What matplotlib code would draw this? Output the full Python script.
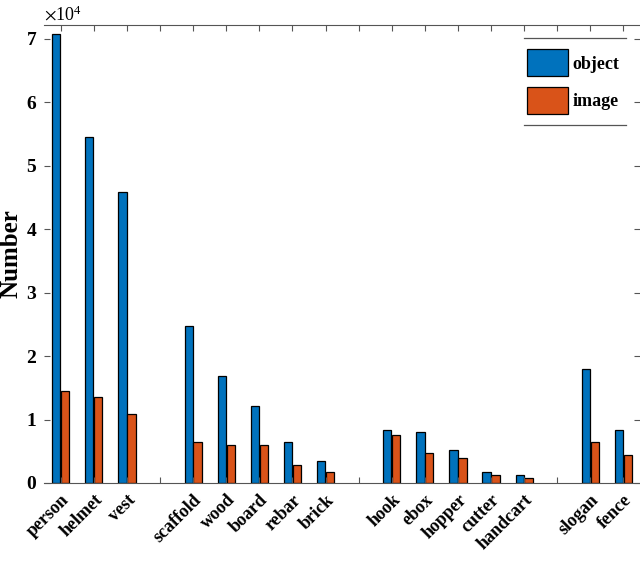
import numpy as np
import matplotlib.pyplot as plt
from matplotlib.ticker import ScalarFormatter

plt.rcParams['font.family'] = 'Liberation Serif'
plt.rcParams['mathtext.fontset'] = 'stix'

# categories (empty strings are the gaps between groups)
categories = ['person', 'helmet', 'vest', '',
              'scaffold', 'wood', 'board', 'rebar', 'brick', '',
              'hook', 'ebox', 'hopper', 'cutter', 'handcart', '',
              'slogan', 'fence']
object_counts = [70800, 54600, 45800, 0,
                 24800, 16800, 12100, 6500, 3400, 0,
                 8300, 8000, 5200, 1800, 1200, 0,
                 17900, 8300]
image_counts = [14500, 13600, 10800, 0,
                6400, 6000, 6000, 2800, 1700, 0,
                7600, 4800, 3900, 1200, 800, 0,
                6400, 4400]

blue = '#0072BD'
orange = '#D95319'

fig = plt.figure(figsize=(6.4, 5.88), dpi=100)
ax = fig.add_axes([0.069, 0.1786, 0.931, 0.7789])

x = np.arange(1, len(categories) + 1)
obj = np.array(object_counts, dtype=float)
img = np.array(image_counts, dtype=float)
mask = np.array([c != '' for c in categories])

bw = 0.25
ax.bar(x[mask] - 0.135, obj[mask], bw, color=blue, edgecolor='black', linewidth=0.9, label='object')
ax.bar(x[mask] + 0.135, img[mask], bw, color=orange, edgecolor='black', linewidth=0.9, label='image')

ax.set_xlim(0.5, 18.5)
ax.set_ylim(0, 72200)
ax.set_xticks(x)
ax.set_xticklabels(categories, rotation=45, ha='right', rotation_mode='anchor',
                   fontsize=13, fontweight='bold')
ax.set_yticks(np.arange(0, 70001, 10000))

fmt = ScalarFormatter(useMathText=True)
fmt.set_powerlimits((0, 0))
ax.yaxis.set_major_formatter(fmt)
ax.yaxis.get_offset_text().set_fontsize(13)
for lab in ax.get_yticklabels():
    lab.set_fontweight('bold')
    lab.set_fontsize(14)

ax.tick_params(axis='both', direction='in', length=4.5, color='#555555',
               top=True, right=True, width=0.8)
ax.tick_params(axis='x', pad=6)
ax.tick_params(axis='y', pad=5)

ax.spines['left'].set_visible(False)
ax.spines['right'].set_visible(False)
ax.spines['top'].set_color('#555555')
ax.spines['bottom'].set_color('#555555')

ax.set_ylabel('Number', fontsize=18, fontweight='bold')
ax.yaxis.set_label_coords(-0.037, 0.5)

leg = ax.legend(loc='upper right', bbox_to_anchor=(0.993, 0.982), frameon=False,
                prop={'weight': 'bold', 'size': 13}, handlelength=2.3,
                handleheight=1.9, handletextpad=0.25, labelspacing=0.6)

# legend top and bottom rules
ax.plot([0.805, 0.977], [0.9716, 0.9716], transform=ax.transAxes, color='#555555',
        linewidth=0.9, clip_on=False)
ax.plot([0.805, 0.977], [0.7817, 0.7817], transform=ax.transAxes, color='#555555',
        linewidth=0.9, clip_on=False)

fig.savefig('out.png', dpi=100)
